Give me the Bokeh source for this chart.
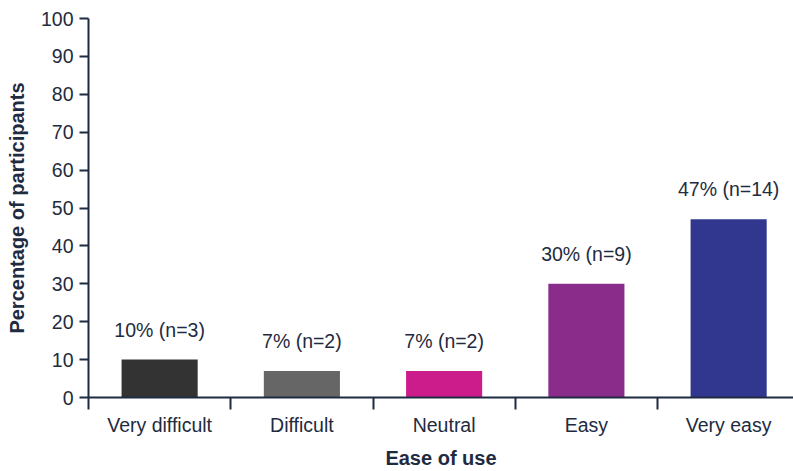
from bokeh.plotting import figure
from bokeh.models import ColumnDataSource, FixedTicker, Range1d
from bokeh.core.properties import value
from bokeh.embed import file_html
from bokeh.resources import INLINE

categories = ["Very difficult", "Difficult", "Neutral", "Easy", "Very easy"]
percentages = [10, 7, 7, 30, 47]
counts = [3, 2, 2, 9, 14]
colors = ["#333333", "#666666", "#cc1c8c", "#8a2d8a", "#31368f"]
y_ticks = [0, 10, 20, 30, 40, 50, 60, 70, 80, 90, 100]

INK = "#1e2b40"
FONT = "Liberation Sans"

xs = [i + 0.5 for i in range(len(categories))]
labels = [f"{p}% (n={n})" for p, n in zip(percentages, counts)]
src = ColumnDataSource(dict(x=xs, top=percentages, color=colors, label=labels))

p = figure(width=793, height=471, output_backend="svg", toolbar_location=None,
           x_range=Range1d(0, 4.956), y_range=Range1d(0, 100),
           min_border_left=88, min_border_right=0, min_border_top=18, min_border_bottom=73)
p.outline_line_color = None
p.xgrid.visible = False
p.ygrid.visible = False

p.vbar(x="x", top="top", bottom=0, width=0.535, fill_color="color", line_color=None, source=src)
p.text(x="x", y="top", text="label", source=src, text_align="center", text_baseline="middle",
       y_offset=-30, text_font=value(FONT), text_font_size="19.5px", text_color=INK)

# x axis
xa = p.xaxis[0]
xa.ticker = FixedTicker(ticks=xs, minor_ticks=list(range(len(categories))))
xa.major_label_overrides = {x: c for x, c in zip(xs, categories)}
xa.major_tick_line_color = None
xa.major_tick_out = 0
xa.major_tick_in = 0
xa.minor_tick_out = 12
xa.minor_tick_in = 0
xa.minor_tick_line_color = INK
xa.minor_tick_line_width = 2
xa.axis_line_color = INK
xa.axis_line_width = 2
xa.major_label_standoff = 4
xa.major_label_text_font = FONT
xa.major_label_text_font_size = "19.5px"
xa.major_label_text_color = INK
xa.axis_label = "Ease of use"
xa.axis_label_text_font = FONT
xa.axis_label_text_font_style = "bold"
xa.axis_label_text_font_size = "20px"
xa.axis_label_text_color = INK
xa.axis_label_standoff = 8

# y axis
ya = p.yaxis[0]
ya.ticker = FixedTicker(ticks=y_ticks, minor_ticks=[])
ya.major_tick_out = 9
ya.major_tick_in = 0
ya.major_tick_line_color = INK
ya.major_tick_line_width = 2
ya.axis_line_color = INK
ya.axis_line_width = 2
ya.major_label_standoff = 6
ya.major_label_text_font = FONT
ya.major_label_text_font_size = "19.5px"
ya.major_label_text_color = INK
ya.axis_label = "Percentage of participants"
ya.axis_label_text_font = FONT
ya.axis_label_text_font_style = "bold"
ya.axis_label_text_font_size = "20px"
ya.axis_label_text_color = INK
ya.axis_label_standoff = 10

open("out.html", "w").write(file_html(p, INLINE))
